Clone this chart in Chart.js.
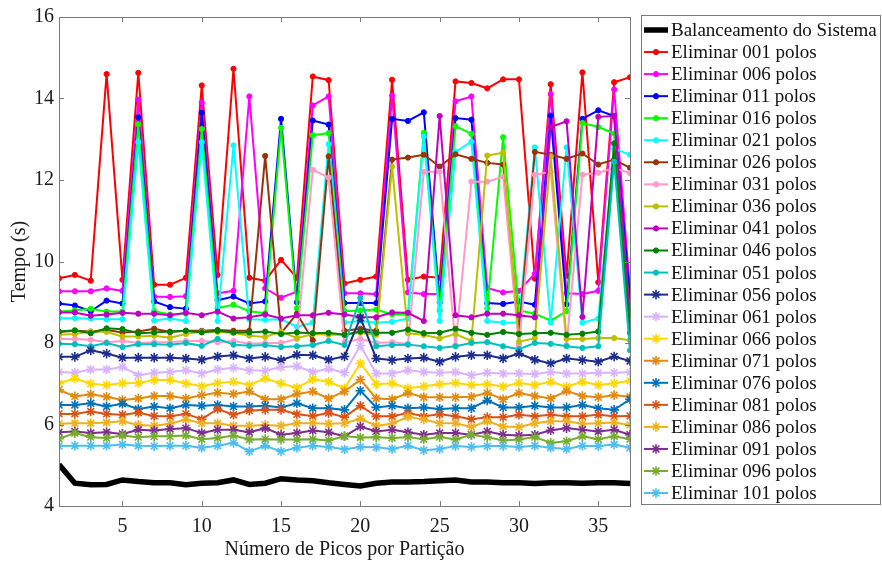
<!DOCTYPE html>
<html>
<head>
<meta charset="utf-8">
<script src="https://cdn.jsdelivr.net/npm/chart.js@4.4.1/dist/chart.umd.min.js"></script>
<style>
  html, body { margin: 0; padding: 0; background: #fff; }
  #wrap { width: 882px; height: 562px; }
</style>
</head>
<body>
<div id="wrap"><canvas id="tempoChart" width="882" height="562"></canvas></div>
<script>
// peaks per partition (x axis)
const picos = [1, 2, 3, 4, 5, 6, 7, 8, 9, 10, 11, 12, 13, 14, 15, 16, 17, 18, 19, 20,
               21, 22, 23, 24, 25, 26, 27, 28, 29, 30, 31, 32, 33, 34, 35, 36, 37];
const xTicks = [5, 10, 15, 20, 25, 30, 35];
const yTicks = [4, 6, 8, 10, 12, 14, 16];

const seriesLabels = [
    'Balanceamento do Sistema',
    'Eliminar 001 polos', 'Eliminar 006 polos', 'Eliminar 011 polos', 'Eliminar 016 polos',
    'Eliminar 021 polos', 'Eliminar 026 polos', 'Eliminar 031 polos', 'Eliminar 036 polos',
    'Eliminar 041 polos', 'Eliminar 046 polos', 'Eliminar 051 polos', 'Eliminar 056 polos',
    'Eliminar 061 polos', 'Eliminar 066 polos', 'Eliminar 071 polos', 'Eliminar 076 polos',
    'Eliminar 081 polos', 'Eliminar 086 polos', 'Eliminar 091 polos', 'Eliminar 096 polos',
    'Eliminar 101 polos'
];

// times in seconds
const balanceamento = [5.02, 4.56, 4.52, 4.53, 4.64, 4.6, 4.57, 4.57, 4.52, 4.56, 4.57, 4.64, 4.53, 4.56, 4.67, 4.64, 4.62, 4.57, 4.53, 4.49, 4.56, 4.59, 4.59, 4.6, 4.62, 4.64, 4.59, 4.59, 4.57, 4.57, 4.55, 4.57, 4.57, 4.56, 4.57, 4.57, 4.55];
const elim001 = [9.59, 9.67, 9.53, 14.6, 9.55, 14.63, 9.43, 9.43, 9.6, 14.32, 9.67, 14.73, 9.6, 9.53, 10.04, 9.6, 14.54, 14.45, 9.46, 9.55, 9.63, 14.46, 9.55, 9.63, 9.6, 14.42, 14.38, 14.25, 14.47, 14.47, 9.58, 14.35, 9.65, 14.64, 9.49, 14.4, 14.52];
const elim006 = [9.27, 9.27, 9.27, 9.34, 9.28, 13.97, 9.14, 9.13, 9.15, 13.9, 9.22, 9.28, 14.05, 9.34, 9.11, 9.26, 13.83, 14.05, 9.22, 9.22, 9.2, 14.07, 9.24, 9.2, 9.2, 13.93, 14.05, 9.35, 9.24, 9.28, 9.7, 14.11, 9.22, 9.2, 9.28, 14.22, 9.28];
const elim011 = [8.97, 8.92, 8.78, 9.04, 8.97, 13.54, 9.02, 8.88, 8.84, 13.65, 9.05, 9.14, 8.97, 9.02, 13.5, 9.0, 13.46, 13.36, 8.98, 8.98, 8.98, 13.5, 13.45, 13.66, 9.0, 13.52, 13.48, 8.98, 8.96, 9.02, 8.94, 13.58, 8.95, 13.5, 13.71, 13.57, 9.12];
const elim016 = [8.77, 8.8, 8.84, 8.77, 8.77, 13.37, 8.78, 8.7, 8.72, 13.25, 8.86, 8.94, 8.78, 8.73, 13.28, 8.85, 13.1, 13.15, 8.78, 8.8, 8.82, 8.7, 8.7, 13.16, 8.8, 13.32, 13.13, 8.85, 13.05, 8.8, 8.72, 8.55, 8.78, 13.4, 13.3, 13.14, 8.62];
const elim021 = [8.61, 8.61, 8.6, 8.58, 8.58, 12.93, 8.55, 8.6, 8.54, 12.93, 8.54, 12.85, 8.58, 8.57, 8.58, 8.4, 8.5, 12.88, 8.5, 8.54, 8.5, 8.52, 8.6, 13.06, 8.54, 12.69, 12.94, 8.54, 8.5, 8.5, 12.8, 8.5, 12.8, 8.5, 8.6, 12.77, 12.62];
const elim026 = [8.27, 8.3, 8.28, 8.32, 8.26, 8.28, 8.35, 8.27, 8.3, 8.3, 8.32, 8.3, 8.3, 12.59, 8.24, 8.72, 8.07, 12.58, 8.3, 8.35, 8.3, 12.5, 12.55, 12.62, 12.33, 12.63, 12.52, 12.42, 12.38, 8.24, 12.69, 12.62, 12.52, 12.65, 12.38, 12.5, 12.3];
const elim031 = [8.1, 8.1, 8.08, 8.02, 8.05, 8.0, 8.02, 8.02, 8.05, 8.05, 8.02, 8.05, 7.98, 8.0, 8.0, 8.1, 12.25, 12.06, 8.02, 8.1, 8.0, 8.02, 7.98, 12.2, 12.2, 7.95, 11.96, 11.96, 12.08, 7.95, 12.13, 12.2, 7.95, 12.13, 12.18, 12.29, 12.17];
const elim036 = [8.2, 8.22, 8.28, 8.27, 8.16, 8.16, 8.18, 8.13, 8.22, 8.28, 8.27, 8.25, 8.18, 8.15, 8.28, 8.12, 8.22, 8.2, 8.2, 8.25, 8.2, 12.33, 8.24, 8.2, 8.11, 8.22, 8.05, 12.6, 12.67, 8.03, 8.12, 12.58, 8.1, 8.1, 8.12, 8.12, 8.07];
const elim041 = [8.75, 8.75, 8.67, 8.7, 8.74, 8.72, 8.72, 8.68, 8.74, 8.68, 8.77, 8.6, 8.63, 8.7, 8.6, 8.68, 8.68, 8.74, 8.7, 8.64, 8.63, 8.75, 8.74, 8.54, 13.57, 8.68, 8.63, 8.72, 8.72, 8.68, 8.63, 13.3, 13.44, 8.64, 13.55, 13.57, 8.68];
const elim046 = [8.28, 8.31, 8.24, 8.36, 8.34, 8.24, 8.26, 8.28, 8.3, 8.26, 8.3, 8.26, 8.26, 8.28, 8.22, 8.26, 8.24, 8.25, 8.2, 8.28, 8.25, 8.25, 8.33, 8.24, 8.25, 8.35, 8.25, 8.2, 8.27, 8.22, 8.24, 8.25, 8.2, 8.23, 8.28, 12.9, 8.25];
const elim051 = [7.98, 7.97, 7.92, 8.0, 7.9, 7.97, 7.97, 7.96, 8.0, 7.93, 8.1, 7.96, 7.93, 7.95, 7.9, 7.92, 7.95, 8.05, 7.95, 9.11, 7.92, 7.95, 7.96, 7.92, 7.88, 7.92, 8.0, 8.02, 7.92, 7.85, 8.0, 7.98, 7.92, 7.88, 7.92, 12.45, 7.82];
const elim056 = [7.66, 7.66, 7.82, 7.74, 7.64, 7.64, 7.64, 7.64, 7.62, 7.59, 7.67, 7.7, 7.62, 7.66, 7.58, 7.71, 7.7, 7.59, 7.67, 8.62, 7.62, 7.58, 7.62, 7.64, 7.54, 7.66, 7.7, 7.7, 7.62, 7.74, 7.59, 7.5, 7.62, 7.58, 7.54, 7.67, 7.56];
const elim061 = [7.29, 7.27, 7.35, 7.35, 7.41, 7.21, 7.27, 7.29, 7.33, 7.25, 7.35, 7.39, 7.33, 7.32, 7.41, 7.43, 7.29, 7.37, 7.27, 7.94, 7.25, 7.25, 7.33, 7.29, 7.27, 7.29, 7.21, 7.27, 7.25, 7.25, 7.24, 7.29, 7.25, 7.25, 7.27, 7.27, 7.28];
const elim066 = [7.01, 7.13, 7.0, 6.97, 7.01, 7.02, 7.09, 7.09, 7.01, 6.94, 7.02, 7.05, 6.97, 7.13, 7.01, 6.9, 7.11, 7.05, 6.89, 7.5, 6.99, 7.01, 6.89, 6.94, 6.99, 7.02, 6.97, 6.99, 6.93, 7.02, 6.97, 7.05, 6.93, 7.05, 6.97, 7.01, 7.07];
const elim071 = [6.85, 6.69, 6.74, 6.68, 6.6, 6.64, 6.7, 6.7, 6.64, 6.72, 6.78, 6.75, 6.81, 6.62, 6.62, 6.75, 6.81, 6.64, 6.81, 7.1, 6.64, 6.62, 6.77, 6.67, 6.67, 6.67, 6.68, 6.77, 6.62, 6.77, 6.7, 6.64, 6.82, 6.7, 6.67, 6.72, 6.68];
const elim076 = [6.48, 6.48, 6.52, 6.44, 6.51, 6.38, 6.44, 6.4, 6.48, 6.46, 6.48, 6.44, 6.44, 6.46, 6.42, 6.52, 6.4, 6.4, 6.36, 6.83, 6.42, 6.46, 6.4, 6.42, 6.38, 6.4, 6.4, 6.59, 6.42, 6.42, 6.46, 6.42, 6.42, 6.48, 6.4, 6.36, 6.62];
const elim081 = [6.26, 6.26, 6.32, 6.26, 6.24, 6.29, 6.21, 6.2, 6.26, 6.13, 6.38, 6.24, 6.34, 6.36, 6.36, 6.25, 6.21, 6.28, 6.18, 6.46, 6.2, 6.2, 6.28, 6.2, 6.25, 6.2, 6.13, 6.18, 6.18, 6.24, 6.2, 6.24, 6.2, 6.2, 6.24, 6.2, 6.21];
const elim086 = [6.02, 6.03, 6.03, 6.05, 6.08, 5.99, 5.97, 6.02, 6.12, 6.03, 6.03, 5.97, 5.97, 5.99, 5.97, 6.03, 6.03, 6.02, 6.03, 6.14, 5.97, 6.02, 6.19, 6.12, 6.03, 6.03, 5.94, 6.08, 5.95, 5.94, 6.03, 6.08, 6.08, 6.02, 6.03, 6.05, 5.99];
const elim091 = [5.81, 5.83, 5.79, 5.81, 5.77, 5.87, 5.85, 5.89, 5.91, 5.79, 5.87, 5.87, 5.81, 5.91, 5.75, 5.79, 5.85, 5.81, 5.71, 5.95, 5.83, 5.87, 5.81, 5.75, 5.79, 5.79, 5.75, 5.83, 5.75, 5.73, 5.75, 5.86, 5.91, 5.87, 5.83, 5.87, 5.75];
const elim096 = [5.65, 5.79, 5.69, 5.67, 5.73, 5.69, 5.71, 5.71, 5.73, 5.64, 5.67, 5.73, 5.63, 5.64, 5.63, 5.63, 5.64, 5.61, 5.71, 5.68, 5.69, 5.67, 5.69, 5.64, 5.69, 5.63, 5.75, 5.69, 5.61, 5.63, 5.69, 5.55, 5.59, 5.71, 5.64, 5.71, 5.64];
const elim101 = [5.47, 5.48, 5.48, 5.48, 5.51, 5.48, 5.47, 5.48, 5.48, 5.43, 5.48, 5.55, 5.34, 5.48, 5.34, 5.43, 5.48, 5.45, 5.39, 5.45, 5.44, 5.4, 5.48, 5.37, 5.4, 5.47, 5.45, 5.47, 5.47, 5.45, 5.48, 5.43, 5.4, 5.48, 5.47, 5.51, 5.43];

const seriesData = [balanceamento, elim001, elim006, elim011, elim016, elim021, elim026,
    elim031, elim036, elim041, elim046, elim051, elim056, elim061, elim066, elim071,
    elim076, elim081, elim086, elim091, elim096, elim101];

const seriesColors = [
    '#000000',
    '#ff0000', '#ff00ff', '#0000ff', '#00ff00', '#00ffff', '#99330a', '#ff99c8', '#bfbf00',
    '#bf00bf', '#008000', '#00bfbf',
    '#1c2d8e', '#d9b3ff', '#ffd700', '#e08a10', '#0072bd', '#d95319', '#edb120', '#7e2f8e',
    '#77ac30', '#4dbeee'
];

const serif = "'Liberation Serif', 'Times New Roman', serif";

function markerFor(i) {
    if (i === 0) return { pointStyle: false, radius: 0, lineWidth: 5.5 };
    if (i <= 11) return { pointStyle: 'circle', radius: 2.6, lineWidth: 2 };
    return { pointStyle: 'star', radius: 4.8, lineWidth: 2 };
}

const datasets = seriesData.map((values, i) => {
    const m = markerFor(i);
    return {
        label: seriesLabels[i],
        data: values.map((v, k) => ({ x: picos[k], y: v })),
        borderColor: seriesColors[i],
        backgroundColor: seriesColors[i],
        borderWidth: m.lineWidth,
        pointStyle: m.pointStyle,
        pointRadius: m.radius,
        pointBorderWidth: i <= 11 ? 1 : 1.6,
        pointBorderColor: seriesColors[i],
        pointBackgroundColor: seriesColors[i],
        tension: 0,
        order: -i
    };
});

// box around the axes with inward tick marks on all four sides
const axesFrame = {
    id: 'axesFrame',
    afterDraw(chart) {
        const { ctx, chartArea: a, scales } = chart;
        ctx.save();
        ctx.strokeStyle = '#7a7a7a';
        ctx.lineWidth = 1;
        ctx.strokeRect(a.left + 0.5, a.top + 0.5, a.right - a.left, a.bottom - a.top);
        ctx.beginPath();
        xTicks.forEach(v => {
            const px = Math.round(scales.x.getPixelForValue(v)) + 0.5;
            ctx.moveTo(px, a.bottom); ctx.lineTo(px, a.bottom - 5);
            ctx.moveTo(px, a.top); ctx.lineTo(px, a.top + 5);
        });
        yTicks.forEach(v => {
            const py = Math.round(scales.y.getPixelForValue(v)) + 0.5;
            ctx.moveTo(a.left, py); ctx.lineTo(a.left + 5, py);
            ctx.moveTo(a.right, py); ctx.lineTo(a.right - 5, py);
        });
        ctx.stroke();
        ctx.restore();
    }
};

// legend drawn as a boxed list to the right of the axes
const boxLegend = {
    id: 'boxLegend',
    afterDraw(chart) {
        const ctx = chart.ctx;
        const left = 641, top = 15, right = 880, bottom = 504;
        const rowStart = 30, rowStep = 22.05;
        ctx.save();
        ctx.fillStyle = '#ffffff';
        ctx.fillRect(left, top, right - left, bottom - top);
        ctx.strokeStyle = '#7a7a7a';
        ctx.lineWidth = 1;
        ctx.strokeRect(left + 0.5, top + 0.5, right - left, bottom - top);
        ctx.font = '19px ' + serif;
        ctx.textBaseline = 'middle';
        ctx.textAlign = 'left';
        chart.data.datasets.forEach((ds, i) => {
            const y = rowStart + i * rowStep;
            ctx.strokeStyle = ds.borderColor;
            ctx.lineWidth = ds.borderWidth;
            ctx.beginPath();
            ctx.moveTo(644, y);
            ctx.lineTo(668, y);
            ctx.stroke();
            if (ds.pointStyle) {
                ctx.fillStyle = ds.borderColor;
                ctx.lineWidth = ds.pointBorderWidth;
                Chart.helpers.drawPoint(ctx, {
                    pointStyle: ds.pointStyle,
                    radius: ds.pointRadius,
                    borderWidth: ds.pointBorderWidth,
                    rotation: 0
                }, 656, y);
            }
            ctx.fillStyle = '#111';
            ctx.fillText(ds.label, 671, y + 1);
        });
        ctx.restore();
    }
};

new Chart(document.getElementById('tempoChart').getContext('2d'), {
    type: 'line',
    data: { datasets: datasets },
    options: {
        responsive: false,
        animation: false,
        devicePixelRatio: 1,
        layout: { padding: { left: 0, top: 13, right: 252, bottom: 0 } },
        plugins: {
            legend: { display: false },
            tooltip: { enabled: false }
        },
        scales: {
            x: {
                type: 'linear',
                min: 1,
                max: 37,
                afterBuildTicks: scale => { scale.ticks = xTicks.map(v => ({ value: v })); },
                afterFit: scale => { scale.height = 56; },
                grid: { display: false, drawTicks: false },
                border: { display: false },
                ticks: { color: '#1a1a1a', font: { family: serif, size: 20 }, padding: 9 },
                title: {
                    display: true,
                    text: 'Número de Picos por Partição',
                    color: '#1a1a1a',
                    font: { family: serif, size: 20 },
                    padding: { top: 0, bottom: 0 }
                }
            },
            y: {
                min: 4,
                max: 16,
                afterBuildTicks: scale => { scale.ticks = yTicks.map(v => ({ value: v })); },
                afterFit: scale => { scale.width = 59; },
                grid: { display: false, drawTicks: false },
                border: { display: false },
                ticks: { color: '#1a1a1a', font: { family: serif, size: 20 }, padding: 5 },
                title: {
                    display: true,
                    text: 'Tempo (s)',
                    color: '#1a1a1a',
                    font: { family: serif, size: 20 },
                    padding: { top: 8, bottom: 0 }
                }
            }
        }
    },
    plugins: [axesFrame, boxLegend]
});
</script>
</body>
</html>
